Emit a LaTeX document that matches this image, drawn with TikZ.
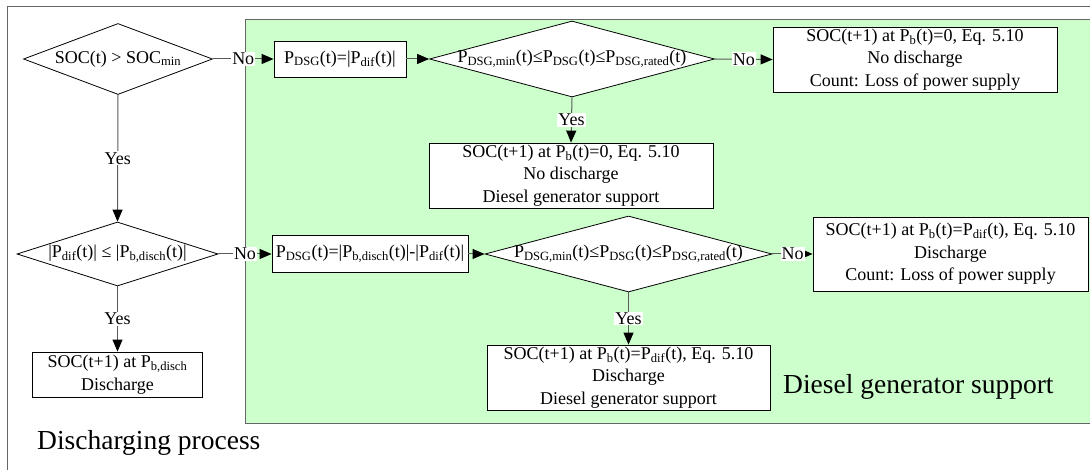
\documentclass[tikz,border=0pt]{standalone}
\usepackage{fontspec}
\setmainfont{Liberation Serif}
\usetikzlibrary{shapes.geometric,arrows.meta}

\newcommand\sbs[1]{\textsubscript{#1}}

\definecolor{frameGray}{HTML}{666666}
\definecolor{lineGray}{HTML}{5A5A5A}
\definecolor{zoneGreen}{HTML}{CCFFCC}

\tikzset{
  basefont/.style={font=\fontsize{18}{22.5}\selectfont},
  decision/.style={diamond, draw=black, line width=0.8pt, fill=white, inner sep=0pt,
    basefont},
  stepbox/.style={rectangle, draw=black, line width=0.8pt, fill=white, inner sep=0pt,
    align=center, basefont},
  flow/.style={draw=lineGray, line width=1pt,
    -{Triangle[length=12pt,width=10pt,color=black]}},
  branch/.style={midway, fill=white, inner sep=1pt, basefont},
  caption/.style={anchor=base west, inner sep=0pt, font=\fontsize{27.5}{33}\selectfont},
}

\begin{document}
\begin{tikzpicture}[x=1pt,y=-1pt]
  \useasboundingbox (0,0) rectangle (1090,470);

  % outer frame of the discharging process
  \draw[frameGray, line width=1pt] (7,7) rectangle (1110,480);
  % diesel generator zone
  \draw[frameGray, line width=1pt, fill=zoneGreen] (245,20) rectangle (1110,423);

  % first row
  \node[decision, minimum width=189pt, minimum height=71pt] (d1) at (118,59)
    {\makebox[0pt]{SOC(t) > SOC\sbs{min}}};
  \node[stepbox, minimum width=132pt, minimum height=36pt] (b1) at (340,59)
    {P\sbs{DSG}(t)=|P\sbs{dif}(t)|};
  \node[decision, minimum width=285pt, minimum height=76pt] (d2) at (572,59)
    {\makebox[0pt]{P\sbs{DSG,min}(t)≤P\sbs{DSG}(t)≤P\sbs{DSG,rated}(t)}};
  \node[stepbox, minimum width=284pt, minimum height=65pt] (b2) at (915,59.5)
    {SOC(t+1) at P\sbs{b}(t)=0, Eq. 5.10\\No discharge\\Count: Loss of power supply};
  \node[stepbox, minimum width=284pt, minimum height=65pt] (b3) at (571,175.5)
    {SOC(t+1) at P\sbs{b}(t)=0, Eq. 5.10\\No discharge\\Diesel generator support};

  % second row
  \node[decision, minimum width=201pt, minimum height=64pt] (d3) at (117.5,254)
    {\makebox[0pt]{|P\sbs{dif}(t)| ≤ |P\sbs{b,disch}(t)|}};
  \node[stepbox, minimum width=196pt, minimum height=37pt] (b4) at (370,254)
    {P\sbs{DSG}(t)=|P\sbs{b,disch}(t)|-|P\sbs{dif}(t)|};
  \node[decision, minimum width=287pt, minimum height=76pt] (d4) at (628.5,254)
    {\makebox[0pt]{P\sbs{DSG,min}(t)≤P\sbs{DSG}(t)≤P\sbs{DSG,rated}(t)}};
  \node[stepbox, minimum width=275pt, minimum height=74pt] (b5) at (950.5,254)
    {SOC(t+1) at P\sbs{b}(t)=P\sbs{dif}(t), Eq. 5.10\\Discharge\\Count: Loss of power supply};
  \node[stepbox, minimum width=283pt, minimum height=65pt] (b6) at (628.5,377.5)
    {SOC(t+1) at P\sbs{b}(t)=P\sbs{dif}(t), Eq. 5.10\\Discharge\\Diesel generator support};
  \node[stepbox, minimum width=170pt, minimum height=45pt] (b7) at (117.5,374.5)
    {SOC(t+1) at P\sbs{b,disch}\\Discharge};

  % connectors
  \draw[flow] (d1.east) -- node[branch]{No} (b1.west);
  \draw[flow] (b1.east) -- (d2.west);
  \draw[flow] (d2.east) -- node[branch]{No} (b2.west);
  \draw[flow] (d2.south) -- node[branch]{Yes} (b3.north);
  \draw[flow] (d1.south) -- node[branch]{Yes} (d3.north);
  \draw[flow] (d3.east) -- node[branch]{No} (b4.west);
  \draw[flow] (b4.east) -- (d4.west);
  \draw[flow] (d4.east) -- node[branch]{No} (b5.west);
  \draw[flow] (d4.south) -- node[branch]{Yes} (b6.north);
  \draw[flow] (d3.south) -- node[branch]{Yes} (b7.north);

  % zone captions
  \node[caption] (capA) at (37,449) {Discharging process};
  \node[caption] (capB) at (783,393) {Diesel generator support};
\end{tikzpicture}
\end{document}
